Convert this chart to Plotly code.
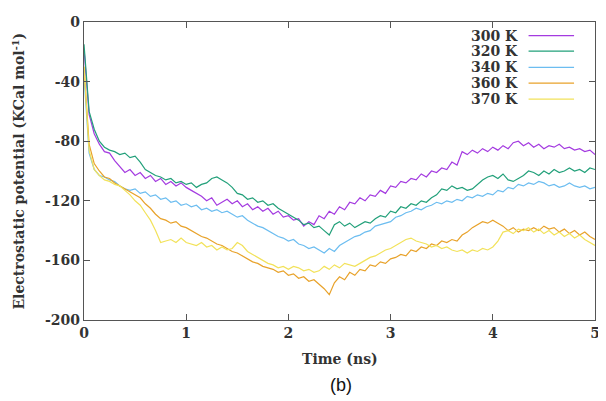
import plotly.graph_objects as go

time_ns = [round(i * 0.05, 2) for i in range(101)]

k300 = [-18, -62, -75, -82, -87, -88, -93, -97, -101, -99, -103, -101, -105, -103, -107, -105, -109, -107, -110, -108,
        -111, -113, -115, -117, -120, -118, -123, -121, -119, -122, -120, -124, -122, -126, -124, -127, -125, -129, -127, -131,
        -130, -133, -132, -137, -134, -136, -130, -132, -127, -129, -124, -126, -121, -122, -118, -120, -116, -117, -113, -115,
        -110, -111, -107, -108, -105, -106, -102, -104, -100, -101, -98, -99, -94, -96, -87, -89, -86, -88, -85, -87,
        -84, -86, -83, -85, -81, -80, -83, -81, -84, -82, -85, -83, -84, -82, -85, -84, -86, -85, -87, -86, -89]

k320 = [-15, -60, -72, -80, -84, -86, -87, -89, -88, -91, -90, -94, -99, -101, -103, -104, -106, -105, -108, -107,
        -109, -108, -111, -109, -108, -105, -104, -106, -108, -111, -115, -116, -119, -118, -121, -120, -123, -122, -125, -127,
        -129, -131, -133, -136, -135, -138, -137, -140, -143, -136, -134, -137, -135, -138, -136, -134, -135, -132, -130, -131,
        -127, -128, -124, -125, -122, -123, -120, -121, -118, -116, -112, -113, -110, -112, -111, -113, -112, -109, -106, -104,
        -103, -105, -102, -106, -107, -105, -103, -100, -101, -103, -100, -102, -99, -101, -100, -98, -100, -99, -101, -98, -99]

k340 = [-36, -88, -99, -103, -104, -106, -107, -110, -112, -113, -112, -115, -114, -117, -116, -119, -118, -121, -120, -123,
        -122, -124, -123, -126, -125, -127, -126, -128, -127, -129, -131, -130, -133, -135, -137, -138, -140, -142, -144, -145,
        -147, -146, -149, -150, -152, -151, -153, -155, -152, -154, -150, -148, -146, -144, -143, -141, -140, -137, -136, -135,
        -134, -131, -130, -128, -127, -125, -126, -124, -123, -121, -122, -120, -121, -119, -120, -117, -118, -116, -117, -115,
        -116, -113, -114, -111, -112, -109, -110, -108, -109, -107, -108, -110, -109, -111, -110, -108, -110, -111, -110, -112, -111]

k360 = [-30, -82, -95, -100, -104, -105, -108, -110, -112, -114, -116, -118, -122, -125, -129, -132, -133, -135, -134, -137,
        -138, -140, -142, -144, -145, -147, -149, -150, -152, -154, -155, -157, -159, -161, -162, -164, -165, -166, -168, -167,
        -170, -169, -172, -171, -174, -173, -176, -179, -183, -175, -171, -173, -168, -170, -166, -167, -163, -164, -161, -162,
        -159, -158, -156, -157, -153, -154, -151, -152, -149, -150, -147, -148, -146, -147, -143, -141, -138, -136, -134, -135,
        -133, -135, -137, -140, -138, -141, -139, -140, -138, -140, -137, -139, -138, -141, -139, -142, -140, -143, -141, -144, -146]

k370 = [-30, -86, -99, -103, -106, -107, -109, -110, -113, -116, -120, -123, -128, -133, -140, -148, -147, -146, -148, -145,
        -148, -149, -150, -148, -151, -150, -153, -151, -153, -152, -148, -150, -154, -156, -158, -160, -162, -163, -165, -164,
        -166, -164, -165, -167, -166, -168, -167, -164, -166, -163, -165, -162, -163, -164, -162, -160, -158, -157, -155, -153,
        -152, -150, -148, -146, -145, -147, -148, -149, -151, -150, -152, -151, -153, -154, -153, -155, -153, -154, -152, -153,
        -151, -147, -141, -140, -142, -139, -140, -138, -141, -139, -142, -140, -143, -141, -144, -142, -145, -143, -146, -148, -150]

series_names = ["300 K", "320 K", "340 K", "360 K", "370 K"]
series_values = [k300, k320, k340, k360, k370]
series_colors = ["#a43be0", "#22a07a", "#6cbdf0", "#e8a22a", "#f2e25a"]

x_ticks = [0, 1, 2, 3, 4, 5]
y_ticks = [0, -40, -80, -120, -160, -200]

font_serif = "DejaVu Serif"

fig = go.Figure()
for name, vals, col in zip(series_names, series_values, series_colors):
    fig.add_trace(go.Scatter(x=time_ns, y=vals, mode="lines", name=name,
                             line=dict(color=col, width=1.2), showlegend=False))

# custom gnuplot-style legend (text then line sample)
leg_y = [0.954, 0.902, 0.848, 0.795, 0.741]
for name, col, yy in zip(series_names, series_colors, leg_y):
    fig.add_annotation(xref="paper", yref="paper", x=0.853, y=yy, text="<b>" + name + "</b>",
                       showarrow=False, xanchor="right", yanchor="middle",
                       font=dict(family=font_serif, size=14, color="#333333"))
    fig.add_shape(type="line", xref="paper", yref="paper", x0=0.870, x1=0.959, y0=yy, y1=yy,
                  line=dict(color=col, width=1.3))

fig.add_annotation(xref="paper", yref="paper", x=0.5, y=-0.131, text="<b>Time (ns)</b>",
                   showarrow=False, xanchor="center", yanchor="middle",
                   font=dict(family=font_serif, size=14, color="#333333"))
fig.add_annotation(xref="paper", yref="paper", x=-0.128, y=0.5, text="<b>Electrostatic potential (KCal mol<sup>-1</sup>)</b>",
                   showarrow=False, xanchor="center", yanchor="middle", textangle=-90,
                   font=dict(family=font_serif, size=14, color="#333333"))
fig.add_annotation(xref="paper", yref="paper", x=0.503, y=-0.218, text="(b)",
                   showarrow=False, xanchor="center", yanchor="middle",
                   font=dict(family="Liberation Sans", size=18, color="#111111"))

axis_common = dict(showgrid=False, zeroline=False, showline=True, linecolor="#555555", linewidth=1.2,
                   mirror="ticks", ticks="inside", ticklen=6, tickcolor="#555555", tickwidth=1,
                   ticklabeloverflow="allow",
                   tickfont=dict(family=font_serif, size=14, color="#333333"))

fig.update_xaxes(range=[0, 5], tickvals=x_ticks, ticktext=["<b>%d</b>" % v for v in x_ticks], **axis_common)
fig.update_yaxes(range=[-200, 0], tickvals=y_ticks, ticktext=["<b>%d</b>" % v for v in y_ticks], **axis_common)

# page body adds an 8px offset; size the figure so the plot area lands at the reference position
fig.update_layout(width=598, height=393, margin=dict(l=76, r=6, t=7, b=81),
                  plot_bgcolor="white", paper_bgcolor="white")

fig.write_html("out.html")
